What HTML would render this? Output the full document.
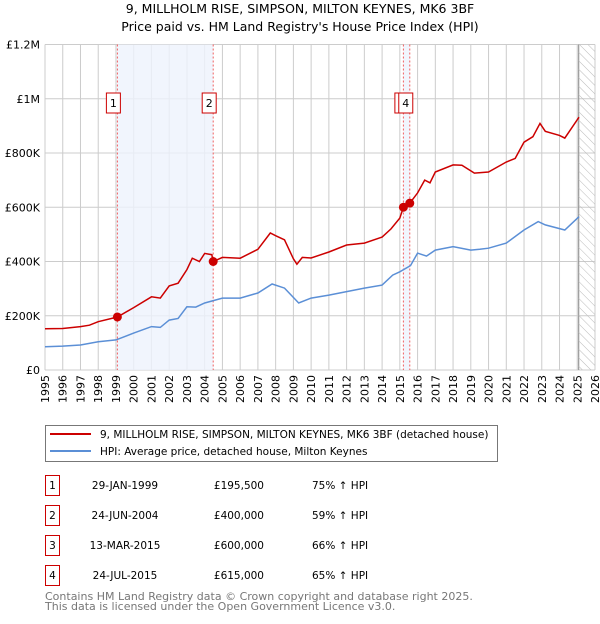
<!DOCTYPE html>
<html><head><meta charset="utf-8"><style>
body{margin:0;background:#fff;font-family:"DejaVu Sans","Liberation Sans",sans-serif;}
svg text{font-family:"DejaVu Sans","Liberation Sans",sans-serif;}
</style></head><body>
<svg id="chart" width="600" height="620" xmlns="http://www.w3.org/2000/svg">
<defs><pattern id="hatch" width="6" height="6" patternUnits="userSpaceOnUse" patternTransform="rotate(-45)"><line x1="0" y1="0" x2="0" y2="6" stroke="#bbb" stroke-width="1"/></pattern></defs>
<text x="300" y="13" text-anchor="middle" font-size="12.5">9, MILLHOLM RISE, SIMPSON, MILTON KEYNES, MK6 3BF</text>
<text x="300" y="31" text-anchor="middle" font-size="12.5">Price paid vs. HM Land Registry's House Price Index (HPI)</text>
<g id="grid"></g><g id="shade"></g><g id="series"></g><g id="axes"></g>
<rect x="45.5" y="425.5" width="452" height="36" fill="#fff" stroke="#777"/>
<line x1="50" y1="434" x2="91" y2="434" stroke="#cc0000" stroke-width="2"/>
<text x="100" y="438" font-size="10.5">9, MILLHOLM RISE, SIMPSON, MILTON KEYNES, MK6 3BF (detached house)</text>
<line x1="50" y1="451" x2="91" y2="451" stroke="#5b8fd6" stroke-width="2"/>
<text x="100" y="455" font-size="10.5">HPI: Average price, detached house, Milton Keynes</text>
<g id="table" font-size="10.5"></g>
<text x="45" y="600" font-size="11" fill="#777">Contains HM Land Registry data © Crown copyright and database right 2025.</text>
<text x="45" y="610" font-size="11" fill="#777">This data is licensed under the Open Government Licence v3.0.</text>
</svg>
<script>
const hpiYears=[1995,1996,1997,1998,1999,2000,2001,2001.5,2002,2002.5,2003,2003.5,2004,2005,2006,2007,2007.8,2008.5,2009.3,2010,2011,2012,2013,2014,2014.6,2015,2015.6,2016,2016.5,2017,2018,2019,2019.5,2020,2021,2022,2022.8,2023.2,2024.3,2025.1];
const hpiValues=[86000,88000,92000,104000,111000,136000,160000,157000,184000,190000,233000,232000,247000,265000,265000,284000,317000,302000,247000,265000,276000,289000,302000,313000,350000,362000,385000,431000,420000,442000,455000,442000,445000,449000,468000,516000,547000,535000,516000,565000];
const priceYears=[1995,1996,1997,1997.5,1998,1999.08,2000,2001,2001.5,2002,2002.5,2003,2003.3,2003.7,2004,2004.4,2004.48,2005,2006,2007,2007.7,2008,2008.5,2009,2009.2,2009.5,2010,2011,2012,2013,2014,2014.5,2015,2015.2,2015.56,2016,2016.4,2016.7,2017,2018,2018.5,2019.2,2020,2021,2021.5,2022,2022.5,2022.9,2023.2,2024,2024.3,2025.1];
const priceValues=[152000,153000,160000,165000,178000,195500,230000,270000,265000,310000,320000,370000,412000,400000,430000,425000,400000,415000,412000,445000,505000,495000,480000,410000,390000,415000,413000,435000,461000,468000,490000,520000,560000,600000,615000,653000,700000,690000,730000,756000,755000,726000,730000,767000,780000,840000,860000,909000,880000,865000,855000,932000];
const saleYears=[1999.08,2004.48,2015.2,2015.56];
const saleValues=[195500,400000,600000,615000];
const saleLabels=["1","2","3","4"];
const saleDates=["29-JAN-1999","24-JUN-2004","13-MAR-2015","24-JUL-2015"];
const salePrices=["£195,500","£400,000","£600,000","£615,000"];
const saleHpi=["75% ↑ HPI","59% ↑ HPI","66% ↑ HPI","65% ↑ HPI"];
const yTicks=[0,200000,400000,600000,800000,1000000,1200000];
const yTickLabels=["£0","£200K","£400K","£600K","£800K","£1M","£1.2M"];
const NS="http://www.w3.org/2000/svg";
const X0=45,X1=595,Y0=370,Y1=44.5;
const xs=y=>X0+(y-1995)/(2026-1995)*(X1-X0);
const ys=v=>Y0-v/1200000*(Y0-Y1);
function mk(tag,attrs,parent){const e=document.createElementNS(NS,tag);for(const k in attrs)e.setAttribute(k,attrs[k]);parent.appendChild(e);return e;}
const grid=document.getElementById('grid'),shade=document.getElementById('shade'),ser=document.getElementById('series'),axes=document.getElementById('axes'),tbl=document.getElementById('table');
let r=mk('rect',{x:xs(saleYears[0]),y:Y1,width:xs(saleYears[1])-xs(saleYears[0]),height:Y0-Y1,fill:'#eef3fc',opacity:0.8},shade);


r=mk('rect',{x:xs(saleYears[2]),y:Y1,width:xs(saleYears[3])-xs(saleYears[2]),height:Y0-Y1,fill:'#eef3fc',opacity:0.8},shade);


r=mk('rect',{x:xs(2025.08),y:Y1,width:X1-xs(2025.08),height:Y0-Y1,fill:'url(#hatch)'},shade);


for(let yr=1995;yr<=2026;yr++){
 const l=mk('line',{x1:xs(yr),x2:xs(yr),y1:Y1,y2:Y0,stroke:'#ccc','stroke-width':1},grid);
 
 
 const t=mk('text',{x:0,y:0,'font-size':11,'text-anchor':'end',transform:`translate(${xs(yr)+4},${Y0+5}) rotate(-90)`},axes);
 t.textContent=yr;
 
 
}
yTicks.forEach((v,i)=>{
 const l=mk('line',{x1:X0,x2:X1,y1:ys(v),y2:ys(v),stroke:'#ccc','stroke-width':1},grid);
 
 
 const t=mk('text',{x:X0-5,y:ys(v)+4,'font-size':11,'text-anchor':'end'},axes);
 t.textContent=yTickLabels[i];
 
 
});
let vl=mk('line',{x1:xs(2025.08),x2:xs(2025.08),y1:Y1,y2:Y0,stroke:'#999','stroke-width':1.2},grid);


saleYears.forEach((y,i)=>{
 const l=mk('line',{x1:xs(y),x2:xs(y),y1:Y1,y2:Y0,stroke:'#f06060','stroke-width':1,'stroke-dasharray':'2,2'},ser);
 
 
});
const pts=(xa,va)=>xa.map((x,i)=>xs(x).toFixed(1)+','+ys(va[i]).toFixed(1)).join(' ');
let p=mk('polyline',{points:pts(hpiYears,hpiValues),fill:'none',stroke:'#5b8fd6','stroke-width':1.5},ser);


p=mk('polyline',{points:pts(priceYears,priceValues),fill:'none',stroke:'#cc0000','stroke-width':1.5},ser);


saleYears.forEach((y,i)=>{
 const c=mk('circle',{cx:xs(y),cy:ys(saleValues[i]),r:4.5,fill:'#cc0000'},ser);
 
 
 const g=mk('g',{},ser);
 
 
 const x=i==2?xs(y)-8.5:xs(y)-11;
 mk('rect',{x:x,y:93,width:14,height:20,fill:'#fff',stroke:'#cc0000','stroke-width':1},g);
 const t=mk('text',{x:x+7,y:107,'font-size':11,'text-anchor':'middle'},g);t.textContent=saleLabels[i];
 const ry=475+i*30;
 const row=mk('g',{},tbl);
 
 
 mk('rect',{x:45.5,y:ry+0.5,width:14,height:20,fill:'#fff',stroke:'#cc0000'},row);
 let tt=mk('text',{x:52.5,y:ry+14,'text-anchor':'middle'},row);tt.textContent=saleLabels[i];
 tt=mk('text',{x:125,y:ry+14,'text-anchor':'middle'},row);tt.textContent=saleDates[i];
 tt=mk('text',{x:264,y:ry+14,'text-anchor':'end'},row);tt.textContent=salePrices[i];
 tt=mk('text',{x:312,y:ry+14},row);tt.textContent=saleHpi[i];
});
</script>
</body></html>
